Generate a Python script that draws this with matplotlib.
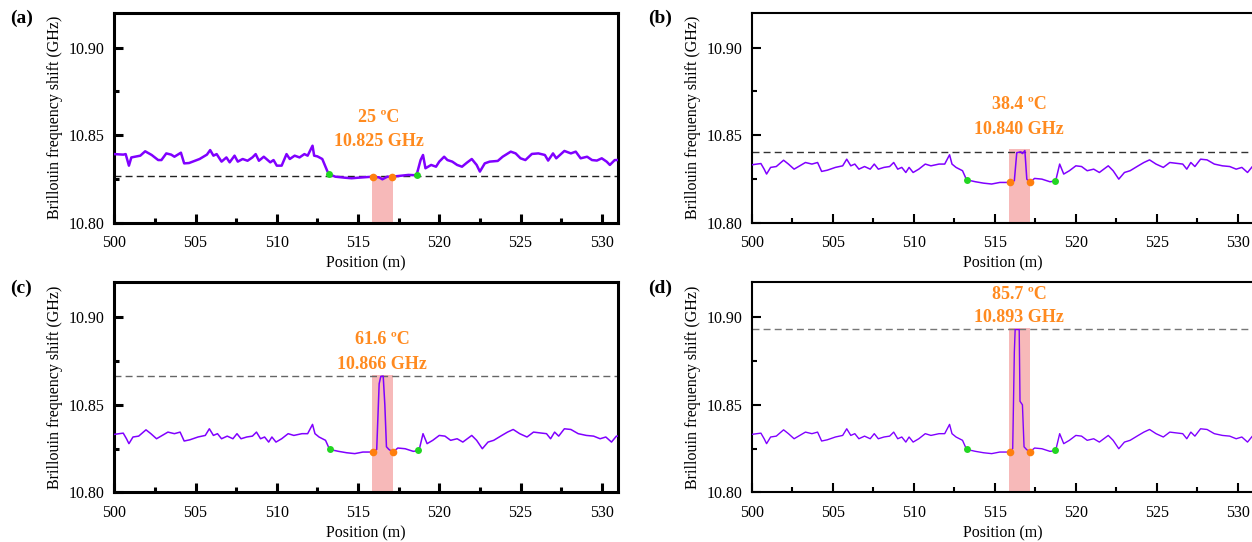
import matplotlib
matplotlib.use("Agg")
import matplotlib.pyplot as plt
from matplotlib.ticker import MultipleLocator

plt.rcParams['font.family'] = ['Liberation Serif', 'DejaVu Serif']

# ---- data ----
# panel (a): 25 C, whole trace
pos_a = [500.0, 500.55, 500.7, 500.9, 501.05, 501.6, 501.9, 502.3, 502.7, 502.9,
         503.2, 503.5, 503.7, 504.1, 504.3, 504.6, 505.25, 505.7, 505.9, 506.1,
         506.3, 506.6, 506.9, 507.1, 507.4, 507.6, 507.9, 508.2, 508.5, 508.7,
         508.9, 509.2, 509.6, 509.8, 510.0, 510.3, 510.6, 510.8, 511.1, 511.4,
         511.7, 511.9, 512.2, 512.3, 512.5, 512.8, 513.1, 513.2, 513.6, 514.2,
         514.6, 515.0, 515.9, 516.3, 516.5, 516.8, 517.1, 517.5, 518.1, 518.6,
         518.85, 519.0, 519.15, 519.5, 519.8, 520.0, 520.3, 520.5, 520.8, 521.1,
         521.4, 521.7, 522.0, 522.3, 522.5, 522.8, 523.1, 523.6, 523.9, 524.4,
         524.7, 525.0, 525.3, 525.7, 526.1, 526.5, 526.7, 527.0, 527.2, 527.7,
         528.1, 528.4, 528.7, 529.1, 529.4, 529.7, 530.0, 530.3, 530.5, 530.8, 531.0]
bfs_a = [10.8392, 10.8389, 10.8392, 10.8326, 10.8373, 10.8383, 10.8408, 10.8387, 10.8358, 10.8358,
         10.8396, 10.8389, 10.8377, 10.8400, 10.8339, 10.8341, 10.8364, 10.8389, 10.8415, 10.8383,
         10.8392, 10.8349, 10.8373, 10.8345, 10.8383, 10.8349, 10.8364, 10.8354, 10.8373, 10.8392,
         10.8354, 10.8377, 10.8345, 10.8358, 10.8326, 10.8326, 10.8392, 10.8364, 10.8383, 10.8373,
         10.8392, 10.8383, 10.8440, 10.8383, 10.8379, 10.8364, 10.8297, 10.8278, 10.8263, 10.8257,
         10.8254, 10.8257, 10.8263, 10.8259, 10.8248, 10.8263, 10.8263, 10.8267, 10.8273, 10.8271,
         10.8358, 10.8387, 10.8311, 10.8330, 10.8320, 10.8349, 10.8377, 10.8358, 10.8349, 10.8330,
         10.8320, 10.8343, 10.8364, 10.8330, 10.8292, 10.8339, 10.8349, 10.8353, 10.8377, 10.8406,
         10.8396, 10.8368, 10.8358, 10.8393, 10.8396, 10.8387, 10.8355, 10.8396, 10.8368, 10.8410,
         10.8396, 10.8406, 10.8368, 10.8377, 10.8358, 10.8355, 10.8368, 10.8349, 10.8330, 10.8358, 10.8358]

# panels (b)-(d): common trace outside the heated section
pos_left = [500.0, 500.3, 500.55, 500.75, 500.9, 501.15, 501.5, 501.95, 502.25, 502.6,
            502.95, 503.3, 503.7, 504.05, 504.3, 504.65, 505.15, 505.6, 505.85, 506.1,
            506.35, 506.6, 506.95, 507.3, 507.55, 507.8, 508.15, 508.5, 508.75, 509.0,
            509.25, 509.5, 509.7, 509.95, 510.3, 510.7, 511.05, 511.55, 511.9, 512.2,
            512.35, 512.6, 513.0, 513.25, 513.8, 514.3, 514.8, 515.3, 515.75, 515.95]
bfs_left = [10.8331, 10.8335, 10.8338, 10.8306, 10.8278, 10.8316, 10.8321, 10.8357, 10.8335, 10.8306,
            10.8325, 10.8344, 10.8335, 10.8344, 10.8293, 10.8300, 10.8316, 10.8325, 10.8363, 10.8325,
            10.8335, 10.8306, 10.8321, 10.8306, 10.8335, 10.8306, 10.8316, 10.8321, 10.8344, 10.8306,
            10.8316, 10.8287, 10.8316, 10.8287, 10.8306, 10.8335, 10.8325, 10.8335, 10.8335, 10.8388,
            10.8335, 10.8316, 10.8297, 10.8245, 10.8234, 10.8226, 10.8221, 10.8230, 10.8230, 10.8230]
pos_right = [517.15, 517.45, 517.9, 518.4, 518.75, 519.0, 519.25, 519.6, 520.0, 520.35,
             520.7, 521.1, 521.45, 522.0, 522.3, 522.65, 523.0, 523.35, 523.85, 524.2,
             524.55, 524.95, 525.4, 525.8, 526.15, 526.6, 526.85, 527.1, 527.35, 527.7,
             528.1, 528.55, 529.05, 529.5, 529.9, 530.25, 530.6, 530.9, 531.0]
bfs_right = [10.8230, 10.8253, 10.8249, 10.8234, 10.8238, 10.8335, 10.8278, 10.8297, 10.8325, 10.8321,
             10.8297, 10.8306, 10.8287, 10.8325, 10.8297, 10.8249, 10.8287, 10.8297, 10.8325, 10.8344,
             10.8359, 10.8335, 10.8316, 10.8344, 10.8340, 10.8335, 10.8306, 10.8344, 10.8321, 10.8363,
             10.8359, 10.8335, 10.8325, 10.8321, 10.8306, 10.8316, 10.8287, 10.8321, 10.8321]

# heated section for (b), (c), (d)
peak_pos_b = [516.2, 516.35, 516.6, 516.7, 516.85, 516.97]
peak_bfs_b = [10.8240, 10.8400, 10.8405, 10.8395, 10.8412, 10.8249]
peak_pos_c = [516.15, 516.3, 516.4, 516.55, 516.65, 516.75, 516.9]
peak_bfs_c = [10.8245, 10.8620, 10.8662, 10.8664, 10.8500, 10.8260, 10.8245]
peak_pos_d = [516.1, 516.2, 516.25, 516.5, 516.55, 516.7, 516.8, 516.95]
peak_bfs_d = [10.8250, 10.8800, 10.8930, 10.8930, 10.8520, 10.8500, 10.8260, 10.8245]

panel_tags = ['(a)', '(b)', '(c)', '(d)']
temps = ['25 \u00baC', '38.4 \u00baC', '61.6 \u00baC', '85.7 \u00baC']
freq_texts = ['10.825 GHz', '10.840 GHz', '10.866 GHz', '10.893 GHz']
dash_levels = [10.8267, 10.8404, 10.8665, 10.8935]
shade_tops = [10.8265, 10.8420, 10.8670, 10.8940]
temp_text_y = [10.8602, 10.8678, 10.8873, 10.9130]
freq_text_y = [10.8463, 10.8534, 10.8730, 10.8997]
text_x = [516.3, 516.5, 516.5, 516.5]

green_pos = [[513.2, 518.6], [513.25, 518.7], [513.25, 518.7], [513.25, 518.7]]
green_bfs = [[10.8278, 10.8271], [10.8245, 10.8240], [10.8245, 10.8240], [10.8245, 10.8240]]
orange_pos = [[515.9, 517.1], [515.95, 517.15], [515.95, 517.15], [515.95, 517.15]]
orange_bfs = [[10.8263, 10.8263], [10.8232, 10.8232], [10.8232, 10.8232], [10.8232, 10.8232]]
shade_span = [515.85, 517.15]

traces = [(pos_a, bfs_a),
          (pos_left + peak_pos_b + pos_right, bfs_left + peak_bfs_b + bfs_right),
          (pos_left + peak_pos_c + pos_right, bfs_left + peak_bfs_c + bfs_right),
          (pos_left + peak_pos_d + pos_right, bfs_left + peak_bfs_d + bfs_right)]

# ---- styling ----
W, H = 1252, 542
axes_px = [(114.3, 12.7, 618, 222.7), (752, 12.7, 1254, 222.7),
           (114.3, 282.3, 618, 492.3), (752, 282.3, 1254, 492.3)]
spine_w = [2.2, 1.5, 2.2, 1.5]
line_w = [1.8, 1.1, 1.1, 1.0]
dash_col = ['#222222', '#333333', '#666666', '#777777']
purple = '#8000ff'
orange = '#ff8a1f'

fig = plt.figure(figsize=(W / 100, H / 100), dpi=100)

for i in range(4):
    x0, y0, x1, y1 = axes_px[i]
    ax = fig.add_axes([x0 / W, 1 - y1 / H, (x1 - x0) / W, (y1 - y0) / H])
    px, py = traces[i]

    ax.fill_between(shade_span, 10.80, shade_tops[i], color='#f7b9b9', lw=0, zorder=1)
    ax.axhline(dash_levels[i], color=dash_col[i], lw=1.0, dashes=(5, 3), zorder=2)
    ax.plot(px, py, color=purple, lw=line_w[i], zorder=3)
    ax.plot(green_pos[i], green_bfs[i], 'o', color='#22d622', ms=5, mec='none', zorder=4)
    ax.plot(orange_pos[i], orange_bfs[i], 'o', color='#ff7f0e', ms=5.5, mec='none', zorder=4)

    ax.text(text_x[i], temp_text_y[i], temps[i], color=orange, fontsize=13,
            fontweight='bold', ha='center', va='center')
    ax.text(text_x[i], freq_text_y[i], freq_texts[i], color=orange, fontsize=13,
            fontweight='bold', ha='center', va='center')

    ax.set_xlim(500, 531)
    ax.set_ylim(10.80, 10.92)
    ax.xaxis.set_major_locator(MultipleLocator(5))
    ax.xaxis.set_minor_locator(MultipleLocator(2.5))
    ax.set_yticks([10.80, 10.85, 10.90])
    ax.set_yticklabels(['10.80', '10.85', '10.90'])
    ax.yaxis.set_minor_locator(MultipleLocator(0.025))
    ax.tick_params(which='major', direction='in', length=6.5, width=spine_w[i],
                   labelsize=11.5, pad=7, top=False, right=False)
    ax.tick_params(axis='x', which='major', pad=9)
    ax.tick_params(which='minor', direction='in', length=3.5, width=spine_w[i],
                   top=False, right=False)
    for s in ax.spines.values():
        s.set_linewidth(spine_w[i])

    ax.set_xlabel('Position (m)', fontsize=11.5, labelpad=3)
    ax.set_ylabel('Brillouin frequency shift (GHz)', fontsize=11.5, labelpad=4)

    fig.text((x0 - 104) / W, 1 - (y0 + 6) / H, panel_tags[i], fontsize=14,
             fontweight='bold', ha='left', va='center')

fig.savefig('out.png', dpi=100)
